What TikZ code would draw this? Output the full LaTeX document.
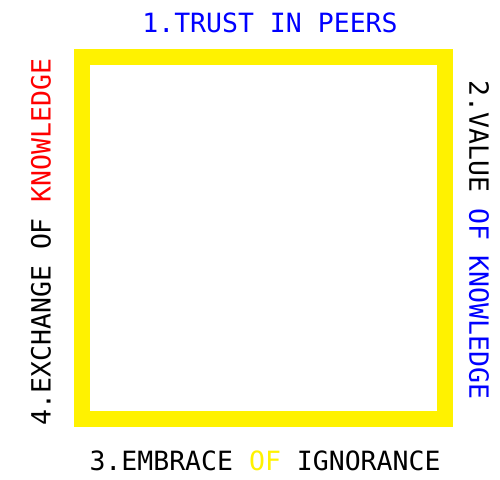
\documentclass[tikz,border=0pt]{standalone}
\usepackage{fontspec}
\newfontfamily\labelfont{DejaVu Sans Mono}
\usetikzlibrary{positioning}

\begin{document}
\begin{tikzpicture}[
    x=1pt, y=-1pt,
    frame/.style={draw=yellow, line width=16pt, minimum width=363pt, minimum height=362pt, inner sep=0pt},
    side/.style={inner sep=0pt, font=\labelfont\fontsize{26.5}{30}\selectfont}
]
\useasboundingbox (0,0) rectangle (500,479);

% Yellow square
\node[frame] (square) at (263.5,238) {};

% Labels on the four sides
\node[side, text=blue] (trust) at (270,23) {1.TRUST IN PEERS};
\node[side, rotate=-90] (value) at (479,240) {2.VALUE \textcolor{blue}{OF KNOWLEDGE}};
\node[side] (embrace) at (265,461) {3.EMBRACE \textcolor{yellow}{OF} IGNORANCE};
\node[side, rotate=90] (exchange) at (41,242) {4.EXCHANGE OF \textcolor{red}{KNOWLEDGE}};
\end{tikzpicture}
\end{document}
